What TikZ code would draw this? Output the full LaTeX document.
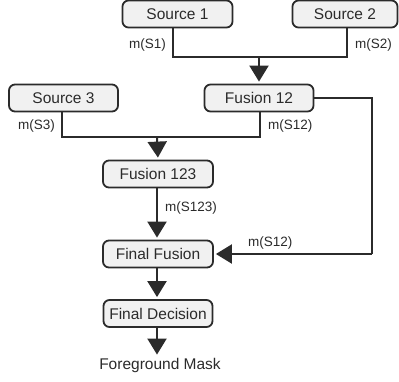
\documentclass[tikz,border=0pt]{standalone}
\usepackage{fontspec}
\setmainfont{Liberation Sans}
\usetikzlibrary{arrows.meta,calc}
\definecolor{ink}{HTML}{2B2B2B}
\definecolor{boxfill}{HTML}{F1F1F1}
\tikzset{
  blk/.style={draw=ink, line width=1.8pt, fill=boxfill, rounded corners=6pt,
    minimum height=27pt, inner sep=0pt, font=\fontsize{15.5}{17}\selectfont, text=ink},
  wire/.style={draw=ink, line width=2pt},
  feed/.style={wire, -{Triangle[width=19pt,length=16pt]}, shorten >=2pt},
  lbl/.style={font=\fontsize{13.5}{15}\selectfont, text=ink, inner sep=0pt},
}
\begin{document}
\begin{tikzpicture}[x=1pt,y=-1pt]
\useasboundingbox (0,0) rectangle (399,381);

% blocks
\node[blk, minimum width=110pt] (s1)   at (177.5,14)  {Source 1};
\node[blk, minimum width=105pt] (s2)   at (345,14)    {Source 2};
\node[blk, minimum width=109pt] (s3)   at (63.5,98)   {Source 3};
\node[blk, minimum width=109pt] (f12)  at (259,98)    {Fusion 12};
\node[blk, minimum width=110pt] (f123) at (158,174)   {Fusion 123};
\node[blk, minimum width=110pt] (ff)   at (158,254)   {Final Fusion};
\node[blk, minimum width=109pt] (fd)   at (158,313.5) {Final Decision};
\node[font=\fontsize{15.5}{17}\selectfont, text=ink, inner sep=0pt] (fm) at (160,365) {Foreground Mask};

% junction points
\coordinate (j1a) at (173,57);
\coordinate (j1b) at (347,57);
\coordinate (j1)  at (259,57);
\coordinate (j2a) at (62,137);
\coordinate (j2b) at (260,137);
\coordinate (j2)  at (157,137);
\coordinate (r1)  at (372,98);
\coordinate (r2)  at (372,254);

% Source 1 + Source 2 -> Fusion 12
\draw[wire] (j1a |- s1.south) -- (j1a) -- (j1b) -- (j1b |- s2.south);
\draw[feed] (j1) -- (f12.north);
\node[lbl, anchor=east] (l1) at (166,45) {m(S1)};
\node[lbl, anchor=west] (l2) at (355,45) {m(S2)};

% Source 3 + Fusion 12 -> Fusion 123
\draw[wire] (j2a |- s3.south) -- (j2a) -- (j2b) -- (j2b |- f12.south);
\draw[feed] (j2) -- (f123.north);
\node[lbl, anchor=east] (l3) at (55,126) {m(S3)};
\node[lbl, anchor=west] (l4) at (268,126) {m(S12)};

% Fusion 123 -> Final Fusion
\draw[feed] (f123.south -| j2) -- (ff.north -| j2);
\node[lbl, anchor=west] (l5) at (165,208) {m(S123)};

% Fusion 12 -> Final Fusion (bypass)
\draw[wire] (f12.east) -- (r1) -- (r2);
\draw[feed] (r2) -- (ff.east);
\node[lbl, anchor=west] (l6) at (248,243) {m(S12)};

% Final Fusion -> Final Decision -> Foreground Mask
\draw[feed] (ff.south -| j2) -- (fd.north -| j2);
\draw[feed, shorten >=1pt] (fd.south -| j2) -- ($(fm.north -| j2)+(0,-2)$);
\end{tikzpicture}
\end{document}
